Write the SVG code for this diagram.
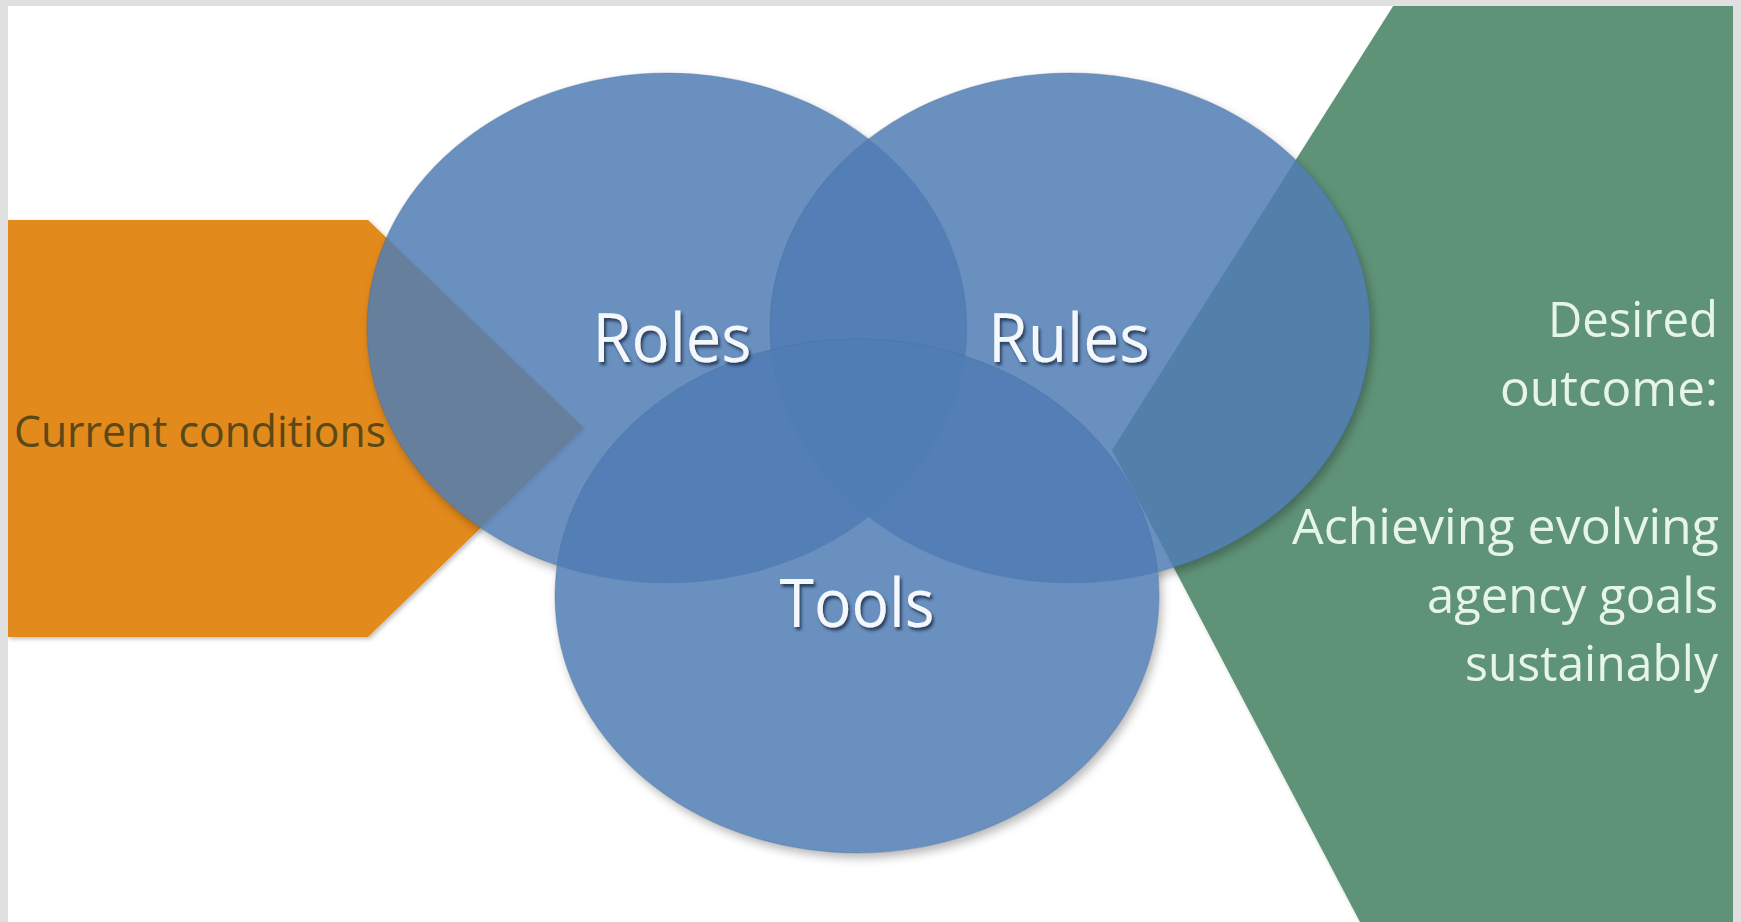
<svg xmlns="http://www.w3.org/2000/svg" width="1741" height="922" viewBox="0 0 1741 922">
  <style>
    .frame { fill: #e0e0e0; }
    .venn { fill: #507cb4; fill-opacity: 0.85; stroke: #4a6d98; stroke-opacity: 0.35; stroke-width: 1.2; }
    .label { font-family: "Open Sans", "Liberation Sans", sans-serif; font-size: 68px; fill: #f4f8fc; text-anchor: middle; filter: url(#textShadow); }
    .outcome { font-family: "Open Sans", "Liberation Sans", sans-serif; font-size: 50px; fill: #e6f4ea; text-anchor: end; }
    .current { font-family: "Open Sans", "Liberation Sans", sans-serif; font-size: 43px; fill: #5a4916; }
  </style>
  <defs>
    <filter id="textShadow" x="-20%" y="-30%" width="140%" height="170%">
      <feDropShadow dx="2" dy="3" stdDeviation="1.8" flood-color="#1c2c46" flood-opacity="0.8"/>
    </filter>
    <filter id="softShadow" x="-10%" y="-10%" width="120%" height="120%">
      <feGaussianBlur stdDeviation="5"/>
    </filter>
    <filter id="edgeShadow" x="-10%" y="-10%" width="120%" height="120%">
      <feDropShadow dx="2" dy="2" stdDeviation="2" flood-color="#000" flood-opacity="0.25"/>
    </filter>
    <!-- keeps the circle shadows outside the translucent discs -->
    <mask id="outsideCircles" maskUnits="userSpaceOnUse" x="0" y="0" width="1741" height="922">
      <rect x="0" y="0" width="1741" height="922" fill="#fff"/>
      <ellipse cx="667" cy="328" rx="300" ry="255" fill="#000"/>
      <ellipse cx="1070" cy="328" rx="300" ry="255" fill="#000"/>
      <ellipse cx="857" cy="596" rx="302" ry="257" fill="#000"/>
    </mask>
  </defs>

  <rect x="0" y="0" width="1741" height="922" fill="#ffffff"/>

  <!-- input: current conditions -->
  <g id="current-conditions">
    <polygon points="8,220 368,220 584,428 368,637 8,637" fill="#e38a1a" filter="url(#edgeShadow)"/>
    <text class="current" x="14" y="447" textLength="372" lengthAdjust="spacingAndGlyphs">Current conditions</text>
  </g>

  <!-- output: desired outcome -->
  <g id="desired-outcome">
    <polygon points="1397,0 1741,0 1741,922 1360,922 1112,450" fill="#5e9377" filter="url(#edgeShadow)"/>
  </g>

  <!-- shadows cast by the three circles -->
  <g id="circle-shadows" mask="url(#outsideCircles)">
    <g filter="url(#softShadow)" fill="#000" fill-opacity="0.28" transform="translate(3,5)">
      <ellipse cx="667" cy="328" rx="300" ry="255"/>
      <ellipse cx="1070" cy="328" rx="300" ry="255"/>
      <ellipse cx="857" cy="596" rx="302" ry="257"/>
    </g>
  </g>

  <g id="roles">
    <ellipse class="venn" cx="667" cy="328" rx="300" ry="255"/>
  </g>
  <g id="rules">
    <ellipse class="venn" cx="1070" cy="328" rx="300" ry="255"/>
  </g>
  <g id="tools">
    <ellipse class="venn" cx="857" cy="596" rx="302" ry="257"/>
  </g>

  <!-- labels above all shapes -->
  <g id="labels">
    <text class="label" x="672" y="362" textLength="159" lengthAdjust="spacingAndGlyphs">Roles</text>
    <text class="label" x="1069" y="362" textLength="162" lengthAdjust="spacingAndGlyphs">Rules</text>
    <text class="label" x="857" y="627" textLength="155" lengthAdjust="spacingAndGlyphs">Tools</text>
    <text class="outcome" x="1718" y="337" textLength="170" lengthAdjust="spacingAndGlyphs">Desired</text>
    <text class="outcome" x="1718" y="406" textLength="218" lengthAdjust="spacingAndGlyphs">outcome:</text>
    <text class="outcome" x="1719" y="544" textLength="427" lengthAdjust="spacingAndGlyphs">Achieving evolving</text>
    <text class="outcome" x="1718" y="613" textLength="291" lengthAdjust="spacingAndGlyphs">agency goals</text>
    <text class="outcome" x="1718" y="681" textLength="253" lengthAdjust="spacingAndGlyphs">sustainably</text>
  </g>

  <g id="connectors"/>

  <!-- grey page frame -->
  <rect class="frame" x="0" y="0" width="8" height="922"/>
  <rect class="frame" x="0" y="0" width="1741" height="6"/>
  <rect class="frame" x="1733" y="0" width="8" height="922"/>
</svg>
